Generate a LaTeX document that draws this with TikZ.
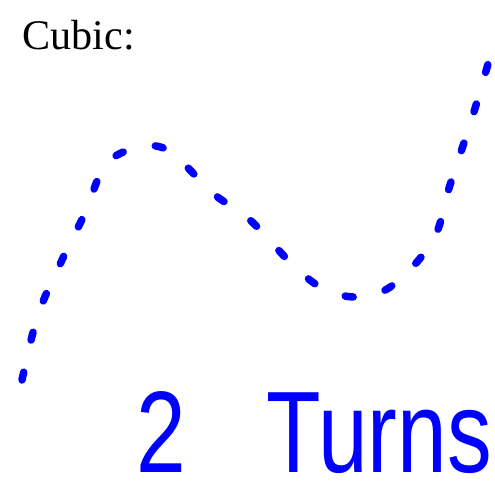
\documentclass[tikz,border=0pt]{standalone}
\usepackage{fontspec}
\setmainfont{Liberation Serif}
\newfontfamily\handfont{Liberation Sans}
\usetikzlibrary{positioning}

\begin{document}
\begin{tikzpicture}[
        x=0.02cm, y=-0.02cm,
        title/.style={font=\fontsize{24}{28}\selectfont, inner sep=0pt, anchor=base west},
        curve/.style={blue, line width=0.15cm, line cap=round, dash pattern=on 0.16cm off 0.66cm},
        hand/.style={blue, font=\handfont\fontsize{66}{72}\selectfont, inner sep=0pt, anchor=base west, xscale=0.77},
    ]
    \useasboundingbox (0,0) rectangle (494,499);

    % === Label ===
    \node[title] (cubic) at (22,50) {Cubic:};

    % === Hand-drawn cubic ===
    \draw[curve] plot[smooth, tension=0.6] coordinates {
        (22,380) (38,315) (62,260) (85,213) (107,163) (145,146) (172,152)
        (190,170) (215,195) (250,220) (290,262) (322,288) (358,297)
        (393,285) (433,240) (450,185) (473,115) (492,50)};

    % === Note ===
    \node[hand] (turns) at (136,472) {2\hspace{2.1cm}Turns};

\end{tikzpicture}
\end{document}
